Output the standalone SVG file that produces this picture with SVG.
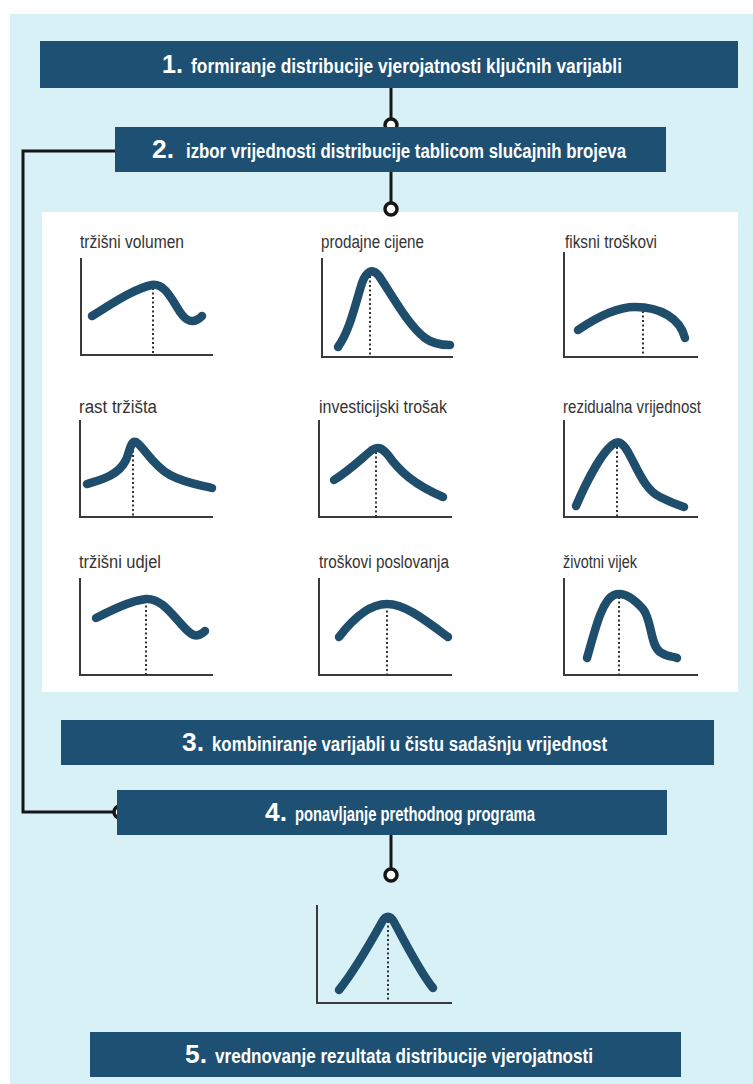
<svg xmlns="http://www.w3.org/2000/svg" width="753" height="1084" viewBox="0 0 753 1084">
<style>
.box{fill:#1e5074}
.bt{font-family:"Liberation Sans",Arial,sans-serif;font-weight:bold;font-size:20px;fill:#ffffff}
.num{font-family:"Liberation Sans",Arial,sans-serif;font-weight:bold;font-size:26px;fill:#ffffff}
.lbl{font-family:"Liberation Sans",Arial,sans-serif;font-size:18px;fill:#333333}
.ax{fill:none;stroke:#3a3a3a;stroke-width:2}
.dot{fill:none;stroke:#333333;stroke-width:2;stroke-dasharray:2 2.5}
.crv{fill:none;stroke:#1f4e6d;stroke-width:8.5;stroke-linecap:round;stroke-linejoin:round}
.con{fill:none;stroke:#161616;stroke-width:3}
.knob{fill:#ffffff;stroke:#161616;stroke-width:3.5}
</style>
<rect x="0" y="0" width="753" height="1084" fill="#ffffff"/>
<rect x="10" y="14" width="743" height="1070" fill="#d7f1f6"/>
<rect id="panel" x="42" y="212" width="696" height="480" fill="#ffffff"/>

<g id="connectors">
<line class="con" x1="391" y1="88" x2="391" y2="120"/>
<line class="con" x1="391" y1="172" x2="391" y2="204"/>
<line class="con" x1="391" y1="835" x2="391" y2="870"/>
<polyline class="con" points="115,151 23,151 23,812 114,812"/>
<circle class="knob" cx="391" cy="125" r="6"/>
<circle class="knob" cx="391" cy="209" r="6"/>
<circle class="knob" cx="391" cy="875" r="6"/>
<circle class="knob" cx="120" cy="812" r="6"/>
</g>

<g id="step1">
<rect class="box" x="40" y="41" width="698" height="47"/>
<text class="num" x="162" y="73" textLength="21" lengthAdjust="spacingAndGlyphs">1.</text>
<text class="bt" x="191" y="73" textLength="431" lengthAdjust="spacingAndGlyphs">formiranje distribucije vjerojatnosti ključnih varijabli</text>
</g>
<g id="step2">
<rect class="box" x="115" y="127" width="551" height="45"/>
<text class="num" x="152" y="158" textLength="22" lengthAdjust="spacingAndGlyphs">2.</text>
<text class="bt" x="186" y="158" textLength="440" lengthAdjust="spacingAndGlyphs">izbor vrijednosti distribucije tablicom slučajnih brojeva</text>
</g>

<g id="chart-trzisni-volumen">
<text class="lbl" x="80" y="248" textLength="104" lengthAdjust="spacingAndGlyphs">tržišni volumen</text>
<polyline class="ax" points="81,258 81,355 213,355"/>
<line class="dot" x1="153" y1="288" x2="153" y2="354"/>
<path class="crv" d="M92,316 C110,305 135,288 152,285 C165,283 172,300 180,312 C186,321 193,325 202,316"/>
</g>
<g id="chart-prodajne-cijene">
<text class="lbl" x="321" y="248" textLength="103" lengthAdjust="spacingAndGlyphs">prodajne cijene</text>
<polyline class="ax" points="322,258 322,357 453,357"/>
<line class="dot" x1="370" y1="276" x2="370" y2="356"/>
<path class="crv" d="M338,347 C350,330 355,305 362,283 C366,272 372,267 379,276 C392,295 408,325 425,338 C433,344 442,345 450,345"/>
</g>
<g id="chart-fiksni-troskovi">
<text class="lbl" x="565" y="248" textLength="92" lengthAdjust="spacingAndGlyphs">fiksni troškovi</text>
<polyline class="ax" points="564,252 564,357 698,357"/>
<line class="dot" x1="643" y1="311" x2="643" y2="356"/>
<path class="crv" d="M578,330 C600,315 618,307 635,307 C660,307 680,318 685,338"/>
</g>

<g id="chart-rast-trzista">
<text class="lbl" x="79" y="413" textLength="78" lengthAdjust="spacingAndGlyphs">rast tržišta</text>
<polyline class="ax" points="80,420 80,517 213,517"/>
<line class="dot" x1="133" y1="446" x2="133" y2="516"/>
<path class="crv" d="M87,484 C100,480 118,476 126,460 C130,450 131,440 136,442 C145,448 152,465 170,475 C185,483 200,485 212,488"/>
</g>
<g id="chart-investicijski-trosak">
<text class="lbl" x="319" y="413" textLength="128" lengthAdjust="spacingAndGlyphs">investicijski trošak</text>
<polyline class="ax" points="319,420 319,517 452,517"/>
<line class="dot" x1="376" y1="452" x2="376" y2="516"/>
<path class="crv" d="M334,480 C350,470 362,458 372,450 C378,446 382,448 388,455 C400,472 415,485 443,497"/>
</g>
<g id="chart-rezidualna-vrijednost">
<text class="lbl" x="563" y="413" textLength="138" lengthAdjust="spacingAndGlyphs">rezidualna vrijednost</text>
<polyline class="ax" points="564,420 564,517 698,517"/>
<line class="dot" x1="617" y1="447" x2="617" y2="516"/>
<path class="crv" d="M576,506 C585,485 600,455 612,445 C618,440 622,442 628,452 C638,470 645,490 660,497 C670,502 678,505 684,507"/>
</g>

<g id="chart-trzisni-udjel">
<text class="lbl" x="79" y="568" textLength="82" lengthAdjust="spacingAndGlyphs">tržišni udjel</text>
<polyline class="ax" points="80,578 80,675 213,675"/>
<line class="dot" x1="146" y1="601" x2="146" y2="674"/>
<path class="crv" d="M96,618 C112,610 130,601 146,599 C160,598 170,612 182,625 C190,634 196,640 205,631"/>
</g>
<g id="chart-troskovi-poslovanja">
<text class="lbl" x="319" y="568" textLength="130" lengthAdjust="spacingAndGlyphs">troškovi poslovanja</text>
<polyline class="ax" points="319,578 319,675 452,675"/>
<line class="dot" x1="387" y1="606" x2="387" y2="674"/>
<path class="crv" d="M339,637 C352,620 368,604 387,604 C405,604 425,620 448,637"/>
</g>
<g id="chart-zivotni-vijek">
<text class="lbl" x="563" y="568" textLength="74" lengthAdjust="spacingAndGlyphs">životni vijek</text>
<polyline class="ax" points="564,578 564,675 698,675"/>
<line class="dot" x1="619" y1="597" x2="619" y2="674"/>
<path class="crv" d="M587,658 C595,630 602,600 614,595 C624,591 635,600 643,609 C652,620 650,645 660,652 C667,657 672,656 677,658"/>
</g>

<g id="step3">
<rect class="box" x="61" y="720" width="653" height="45"/>
<text class="num" x="182" y="751" textLength="22" lengthAdjust="spacingAndGlyphs">3.</text>
<text class="bt" x="212" y="751" textLength="395" lengthAdjust="spacingAndGlyphs">kombiniranje varijabli u čistu sadašnju vrijednost</text>
</g>
<g id="step4">
<rect class="box" x="117" y="790" width="550" height="45"/>
<text class="num" x="265" y="821" textLength="22" lengthAdjust="spacingAndGlyphs">4.</text>
<text class="bt" x="295" y="821" textLength="240" lengthAdjust="spacingAndGlyphs">ponavljanje prethodnog programa</text>
</g>

<g id="chart-result">
<polyline class="ax" points="317,905 317,1003 452,1003"/>
<line class="dot" x1="388" y1="921" x2="388" y2="1002"/>
<path class="crv" d="M339,990 C355,970 372,940 382,922 C386,915 390,915 394,922 C405,942 420,972 433,988"/>
</g>

<g id="step5">
<rect class="box" x="90" y="1032" width="591" height="45"/>
<text class="num" x="185" y="1063" textLength="22" lengthAdjust="spacingAndGlyphs">5.</text>
<text class="bt" x="215" y="1063" textLength="378" lengthAdjust="spacingAndGlyphs">vrednovanje rezultata distribucije vjerojatnosti</text>
</g>
</svg>
